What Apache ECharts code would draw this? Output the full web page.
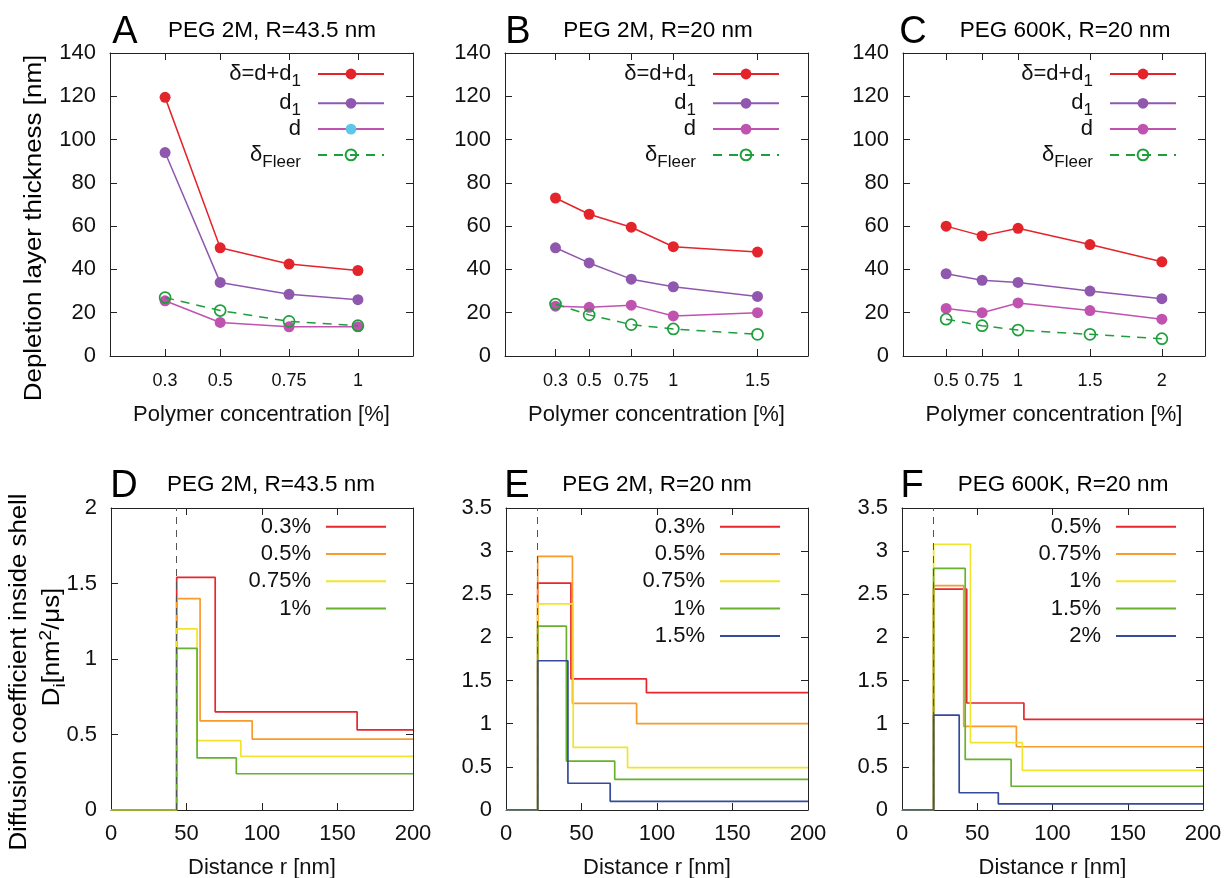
<!DOCTYPE html>
<html><head><meta charset="utf-8">
<script src="https://cdn.jsdelivr.net/npm/echarts@6/dist/echarts.min.js"></script>
<style>html,body{margin:0;padding:0;background:#fff}#chart{width:1227px;height:878px}</style>
</head><body><div id="chart"></div>
<script>
// ================= DATA =================
// Panel A: PEG 2M, R=43.5 nm
const concA  = [0.3, 0.5, 0.75, 1];
const deltaA = [119.5, 50, 42.5, 39.5];
const d1A    = [94, 34, 28.5, 26];
const dA     = [25.5, 15.5, 13.5, 13.5];
const fleerA = [27, 21, 16, 14];
// Panel B: PEG 2M, R=20 nm
const concB  = [0.3, 0.5, 0.75, 1, 1.5];
const deltaB = [73, 65.5, 59.5, 50.5, 48];
const d1B    = [50, 43, 35.5, 32, 27.5];
const dB     = [23, 22.5, 23.5, 18.5, 20];
const fleerB = [24, 19, 14.5, 12.5, 10];
// Panel C: PEG 600K, R=20 nm
const concC  = [0.5, 0.75, 1, 1.5, 2];
const deltaC = [60, 55.5, 59, 51.5, 43.5];
const d1C    = [38, 35, 34, 30, 26.5];
const dC     = [22, 20, 24.5, 21, 17];
const fleerC = [17, 14, 12, 10, 8];

// Panel D: step profiles (r breakpoints, D values)
const labelsD = ['0.3%', '0.5%', '0.75%', '1%'];
const rD_1 = [0, 43.5, 69, 163, 200];  const vD_1 = [0, 1.54, 0.65, 0.53, 0.53];
const rD_2 = [0, 43.5, 59, 93.5, 200]; const vD_2 = [0, 1.40, 0.59, 0.47, 0.47];
const rD_3 = [0, 43.5, 57, 86, 200];   const vD_3 = [0, 1.20, 0.46, 0.355, 0.355];
const rD_4 = [0, 43.5, 57, 83, 200];   const vD_4 = [0, 1.07, 0.345, 0.24, 0.24];
const radiusD = 43.5;
// Panel E
const labelsE = ['0.3%', '0.5%', '0.75%', '1%', '1.5%'];
const rE_1 = [0, 21, 43, 93, 200];     const vE_1 = [0, 2.63, 1.52, 1.36, 1.36];
const rE_2 = [0, 21, 44, 86.5, 200];   const vE_2 = [0, 2.94, 1.235, 1.0, 1.0];
const rE_3 = [0, 21, 44.5, 80.5, 200]; const vE_3 = [0, 2.39, 0.725, 0.49, 0.49];
const rE_4 = [0, 21, 40, 72, 200];     const vE_4 = [0, 2.13, 0.567, 0.355, 0.355];
const rE_5 = [0, 21, 41, 69, 200];     const vE_5 = [0, 1.73, 0.31, 0.10, 0.10];
const radiusE = 21;
// Panel F
const labelsF = ['0.5%', '0.75%', '1%', '1.5%', '2%'];
const rF_1 = [0, 21, 43, 81, 200];     const vF_1 = [0, 2.56, 1.24, 1.05, 1.05];
const rF_2 = [0, 21, 41, 76, 200];     const vF_2 = [0, 2.60, 0.97, 0.733, 0.733];
const rF_3 = [0, 21, 45.5, 80, 200];   const vF_3 = [0, 3.08, 0.78, 0.46, 0.46];
const rF_4 = [0, 21, 42, 72.5, 200];   const vF_4 = [0, 2.80, 0.586, 0.275, 0.275];
const rF_5 = [0, 21, 38, 64, 200];     const vF_5 = [0, 1.10, 0.20, 0.07, 0.07];
const radiusF = 21;

const yTicksTop = { min: 0, max: 140, interval: 20 };

// ================= STYLE / LAYOUT =================
const FONT = "'Liberation Sans', Arial, Helvetica, sans-serif";
const TXT = '#111';
const AX = { color: '#222', width: 1 };
const RED = '#e3242b', PURPLE = '#8f58ae', MAGENTA = '#c052b0', GREEN = '#1f9e3c', CYAN = '#5cc7e8';
const STEP_COLORS = ['#e8262c', '#f89b2a', '#f0e52c', '#66b22f', '#364a9b'];

const gridPos = [
  [110, 53, 303, 303], [505, 53, 303, 303], [903, 53, 302, 303],
  [111, 508, 302, 302], [506, 508, 302, 302], [902, 508, 301, 302]
];

const topPanels = [
  { L: 'A', title: 'PEG 2M, R=43.5 nm', conc: concA, delta: deltaA, d1: d1A, d: dA, fleer: fleerA, xmin: 0.1, xmax: 1.2, legendRight: 842, tx: 272, lx: 125 },
  { L: 'B', title: 'PEG 2M, R=20 nm',   conc: concB, delta: deltaB, d1: d1B, d: dB, fleer: fleerB, xmin: 0,   xmax: 1.8, legendRight: 447, tx: 658, lx: 518 },
  { L: 'C', title: 'PEG 600K, R=20 nm', conc: concC, delta: deltaC, d1: d1C, d: dC, fleer: fleerC, xmin: 0.2, xmax: 2.3, legendRight: 50,  tx: 1065, lx: 913 }
];
const botPanels = [
  { L: 'D', title: 'PEG 2M, R=43.5 nm', labels: labelsD, r: [rD_1, rD_2, rD_3, rD_4], v: [vD_1, vD_2, vD_3, vD_4], R: radiusD, ymax: 2, legendRight: 841, tx: 271, lx: 124 },
  { L: 'E', title: 'PEG 2M, R=20 nm',   labels: labelsE, r: [rE_1, rE_2, rE_3, rE_4, rE_5], v: [vE_1, vE_2, vE_3, vE_4, vE_5], R: radiusE, ymax: 3.5, legendRight: 447, tx: 657, lx: 517 },
  { L: 'F', title: 'PEG 600K, R=20 nm', labels: labelsF, r: [rF_1, rF_2, rF_3, rF_4, rF_5], v: [vF_1, vF_2, vF_3, vF_4, vF_5], R: radiusF, ymax: 3.5, legendRight: 51, tx: 1063, lx: 912 }
];

// ================= BUILD =================
const grids = gridPos.map(p => ({ left: p[0], top: p[1], width: p[2], height: p[3], outerBoundsMode: 'none', containLabel: false, show: false }));
const xAxes = [], yAxes = [], series = [], legends = [], graphics = [];

function mkX(gi, pos, o) {
  const a = {
    gridIndex: gi, type: 'value', position: pos, min: o.min, max: o.max,
    axisLine: { show: true, onZero: false, lineStyle: AX },
    axisTick: { show: true, inside: true, length: 7, lineStyle: AX },
    axisLabel: { show: pos === 'bottom', fontSize: o.fs, color: TXT, fontFamily: FONT, margin: o.margin },
    splitLine: { show: false }
  };
  if (o.ticks) { a.axisTick.customValues = o.ticks; a.axisLabel.customValues = o.ticks; }
  else { a.interval = o.interval; }
  if (pos === 'bottom') {
    a.name = o.name; a.nameLocation = 'middle'; a.nameGap = o.nameGap;
    a.nameTextStyle = { fontSize: 22, color: TXT, fontFamily: FONT };
  }
  return a;
}
function mkY(gi, pos, o) {
  return {
    gridIndex: gi, type: 'value', position: pos, min: o.min, max: o.max, interval: o.interval,
    axisLine: { show: true, onZero: false, lineStyle: AX },
    axisTick: { show: true, inside: true, length: 7, lineStyle: AX },
    axisLabel: { show: pos === 'left', fontSize: 22, color: TXT, fontFamily: FONT, margin: 14 },
    splitLine: { show: false }
  };
}

const topKeys = ['delta', 'd1', 'd', 'fleer'];
const topLabel = { delta: 'δ=d+d{s|1}', d1: 'd{s|1}', d: 'd', fleer: 'δ{s|Fleer}' };
const topColor = { delta: RED, d1: PURPLE, d: MAGENTA, fleer: GREEN };

topPanels.forEach((P, gi) => {
  xAxes.push(mkX(gi, 'bottom', { min: P.xmin, max: P.xmax, ticks: P.conc, fs: 18, margin: 16, name: 'Polymer concentration [%]', nameGap: 48 }));
  xAxes.push(mkX(gi, 'top', { min: P.xmin, max: P.xmax, ticks: P.conc }));
  yAxes.push(mkY(gi, 'left', yTicksTop));
  yAxes.push(mkY(gi, 'right', yTicksTop));
  topKeys.forEach((k, j) => {
    const vals = P[k];
    const s = {
      name: P.L + '|' + k, type: 'line', xAxisIndex: 2 * gi, yAxisIndex: 2 * gi,
      data: P.conc.map((c, i) => [c, vals[i]]),
      symbol: 'circle', symbolSize: 11, z: 3,
      lineStyle: { color: topColor[k], width: 1.5 },
      itemStyle: { color: topColor[k] }
    };
    if (k === 'fleer') {
      s.lineStyle.type = [9, 7];
      s.itemStyle = { color: 'rgba(255,255,255,0)', borderColor: GREEN, borderWidth: 1.7 };
      s.z = 4;
    }
    series.push(s);
  });
  legends.push({
    orient: 'vertical', align: 'right', right: P.legendRight, top: 58.5, padding: 0,
    itemWidth: 66, itemHeight: 13.5, itemGap: -1.7, selectedMode: false,
    data: topKeys.map(k => (P.L === 'A' && k === 'd') ? { name: P.L + '|' + k, itemStyle: { color: CYAN } } : { name: P.L + '|' + k }),
    formatter: n => topLabel[n.split('|')[1]],
    textStyle: {
      fontFamily: FONT, fontSize: 22, color: TXT, lineHeight: 24, padding: [0, 12, 0, 0],
      rich: { s: { fontFamily: FONT, fontSize: 17, color: TXT, lineHeight: 10, padding: [14, 0, 0, 0] } }
    }
  });
  graphics.push({ type: 'text', x: P.lx, y: 33, style: { text: P.L, fontFamily: FONT, fontSize: 38, fill: '#000', align: 'center', verticalAlign: 'middle' } });
  graphics.push({ type: 'text', x: P.tx, y: 31, style: { text: P.title, fontFamily: FONT, fontSize: 22.5, fill: '#000', align: 'center', verticalAlign: 'middle' } });
});

botPanels.forEach((P, bi) => {
  const gi = 3 + bi;
  const yo = { min: 0, max: P.ymax, interval: 0.5 };
  xAxes.push(mkX(gi, 'bottom', { min: 0, max: 200, interval: 50, fs: 22, margin: 13, name: 'Distance r [nm]', nameGap: 47 }));
  xAxes.push(mkX(gi, 'top', { min: 0, max: 200, interval: 50 }));
  yAxes.push(mkY(gi, 'left', yo));
  yAxes.push(mkY(gi, 'right', yo));
  // dashed radius marker
  series.push({
    name: P.L + '|R', type: 'line', xAxisIndex: 2 * gi, yAxisIndex: 2 * gi, data: [], z: 1,
    markLine: {
      silent: true, symbol: ['none', 'none'], label: { show: false }, animation: false,
      lineStyle: { color: '#555', type: [7, 6], width: 1 },
      data: [{ xAxis: P.R }]
    }
  });
  P.labels.forEach((lab, j) => {
    const rr = P.r[j], vv = P.v[j];
    series.push({
      name: P.L + '|' + lab, type: 'line', step: 'end', xAxisIndex: 2 * gi, yAxisIndex: 2 * gi,
      data: rr.map((x, i) => [x, vv[i]]), symbol: 'none', showSymbol: false, z: 3,
      lineStyle: { color: STEP_COLORS[j], width: 1.7 }, itemStyle: { color: STEP_COLORS[j] }
    });
  });
  legends.push({
    orient: 'vertical', align: 'right', right: P.legendRight, top: 514.7, padding: 0,
    itemWidth: 60, itemHeight: 2, itemGap: 3.3, icon: 'rect', selectedMode: false,
    data: P.labels.map(lab => P.L + '|' + lab),
    formatter: n => n.split('|')[1],
    textStyle: { fontFamily: FONT, fontSize: 22, color: TXT, lineHeight: 24, padding: [0, 10, 0, 0] }
  });
  graphics.push({ type: 'text', x: P.lx, y: 487, style: { text: P.L, fontFamily: FONT, fontSize: 38, fill: '#000', align: 'center', verticalAlign: 'middle' } });
  graphics.push({ type: 'text', x: P.tx, y: 485, style: { text: P.title, fontFamily: FONT, fontSize: 22.5, fill: '#000', align: 'center', verticalAlign: 'middle' } });
});

// y-axis titles
graphics.push({ type: 'text', x: 35, y: 228, rotation: Math.PI / 2, scaleX: 1.13,
  style: { text: 'Depletion layer thickness [nm]', fontFamily: FONT, fontSize: 23, fill: '#000', align: 'center', verticalAlign: 'middle' } });
graphics.push({ type: 'text', x: 20, y: 672, rotation: Math.PI / 2, scaleX: 1.12,
  style: { text: 'Diffusion coefficient inside shell', fontFamily: FONT, fontSize: 23, fill: '#000', align: 'center', verticalAlign: 'middle' } });
graphics.push({ type: 'text', x: 53, y: 647, rotation: Math.PI / 2, scaleX: 1.12,
  style: { text: 'D{sub|i}[nm{sup|2}/μs]', fontFamily: FONT, fontSize: 23, fill: '#000', align: 'center', verticalAlign: 'middle',
    rich: {
      sub: { fontFamily: FONT, fontSize: 17, fill: '#000', lineHeight: 12, padding: [14, 0, 0, 0] },
      sup: { fontFamily: FONT, fontSize: 17, fill: '#000', lineHeight: 12, padding: [0, 0, 14, 0] }
    } } });

const chart = echarts.init(document.getElementById('chart'), null, { renderer: 'canvas' });
chart.setOption({
  animation: false,
  backgroundColor: '#fff',
  grid: grids, xAxis: xAxes, yAxis: yAxes, series: series, legend: legends,
  graphic: { elements: graphics }
});
</script></body></html>
